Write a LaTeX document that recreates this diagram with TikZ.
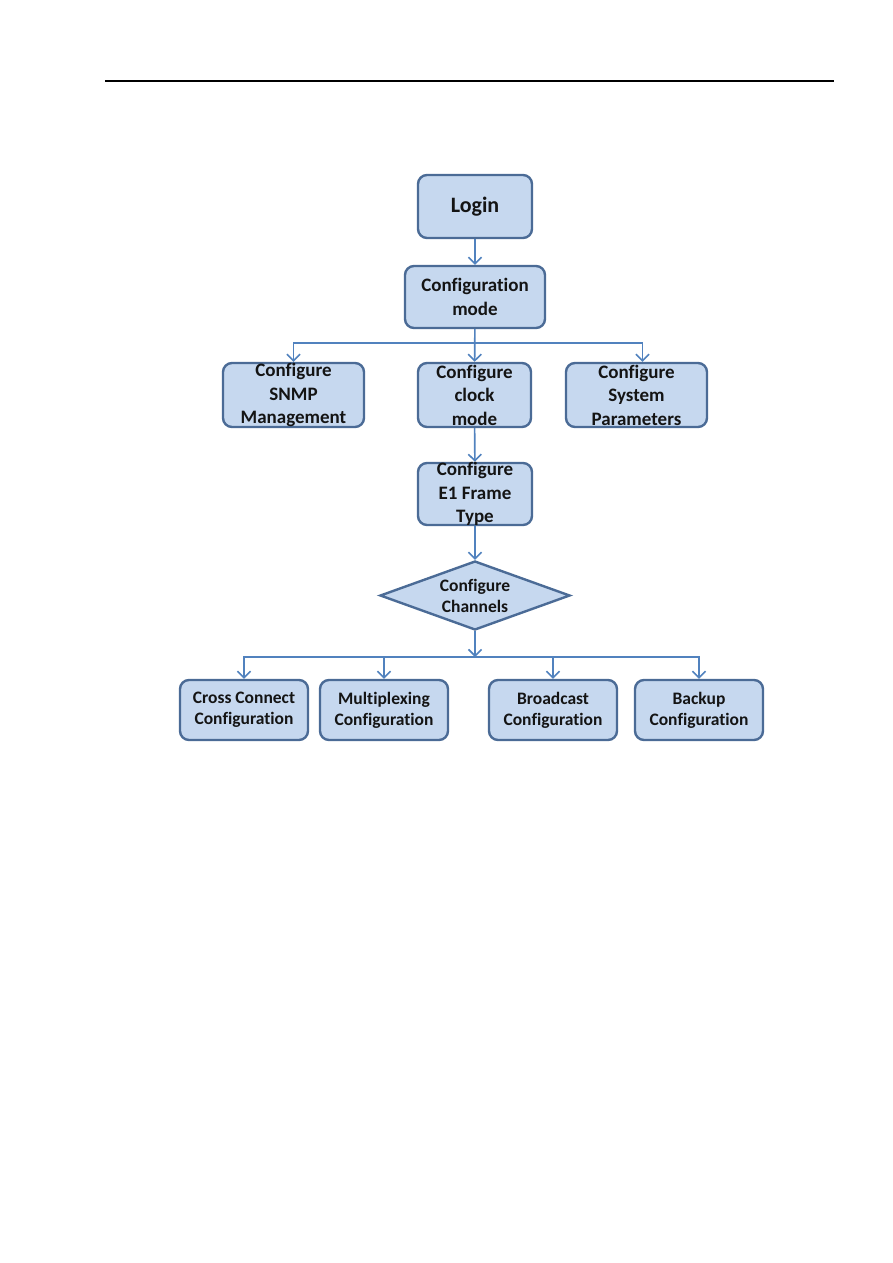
\documentclass[tikz,border=0pt]{standalone}
\usepackage{fontspec}
\setmainfont{Carlito}[Ligatures=NoCommon]
\usepackage{xcolor}
\usepackage{tikz}
\usetikzlibrary{positioning,arrows.meta,shapes.geometric}
\definecolor{cfill}{HTML}{C6D8EF}
\definecolor{cedge}{HTML}{4B6B96}
\definecolor{cline}{HTML}{5182BE}
\definecolor{ctext}{HTML}{141414}

\begin{document}
\begin{tikzpicture}[x=1pt, y=-1pt,
 box/.style={rectangle, rounded corners=9pt, draw=cedge, fill=cfill,
 line width=2.4pt, inner sep=0pt},
 dec/.style={diamond, draw=cedge, fill=cfill, line width=2.4pt, inner sep=0pt},
 txt/.style={align=center, text=ctext, font=\fontsize{19}{23.5}\selectfont\bfseries},
 txts/.style={align=center, text=ctext, font=\fontsize{17.5}{21}\selectfont\bfseries},
 a/.style={-{Straight Barb[length=6.5pt,width=13pt]}, draw=cline, line width=1.6pt},
]
 \useasboundingbox (0,0) rectangle (893,1263);
 \draw[line width=1.5pt] (105,81) -- (834,81);

 % main chain
 \node[box, minimum width=114, minimum height=63,
 label={[txt, font=\fontsize{22}{26}\selectfont\bfseries]center:Login}] (login) at (475,206.5) {};
 \node[box, minimum width=140, minimum height=62,
 label={[txt]center:Configuration\\mode}] (cfg) at (475,297) {};
 \node[box, minimum width=141, minimum height=64,
 label={[txt]center:Configure\\SNMP\\Management}] (snmp) at (293.5,395) {};
 \node[box, minimum width=113, minimum height=64,
 label={[txt]center:Configure\\clock\\mode}] (clock) at (474.5,395) {};
 \node[box, minimum width=141, minimum height=64,
 label={[txt]center:Configure\\System\\Parameters}] (sys) at (636.5,395) {};
 \node[box, minimum width=114, minimum height=62,
 label={[txt]center:Configure\\E1 Frame\\Type}] (frame) at (475,494) {};
 \node[dec, minimum width=190, minimum height=69,
 label={[txts]center:Configure\\Channels}] (chan) at (475,595.5) {};

 % channel modes
 \node[box, minimum width=128, minimum height=60,
 label={[txts]center:Cross Connect\\Configuration}] (cross) at (244,710) {};
 \node[box, minimum width=128, minimum height=60,
 label={[txts]center:Multiplexing\\Configuration}] (mux) at (384,710) {};
 \node[box, minimum width=128, minimum height=60,
 label={[txts]center:Broadcast\\Configuration}] (bcast) at (553,710) {};
 \node[box, minimum width=128, minimum height=60,
 label={[txts]center:Backup\\Configuration}] (backup) at (699,710) {};

 \coordinate (j1) at (475,343);
 \coordinate (j2) at (475,657);

 \draw[a] (login) -- (cfg);
 \draw[a] (cfg) -- (clock);
 \draw[a] (j1) -| (snmp.north);
 \draw[a] (j1) -| ([xshift=6pt]sys.north);
 \draw[a] (clock) -- (frame);
 \draw[a] (frame) -- (chan);
 \draw[a] (chan.south) -- (j2);
 \draw[a] (j2) -| (cross.north);
 \draw[a] (j2) -| (mux.north);
 \draw[a] (j2) -| (bcast.north);
 \draw[a] (j2) -| (backup.north);
\end{tikzpicture}
\end{document}
